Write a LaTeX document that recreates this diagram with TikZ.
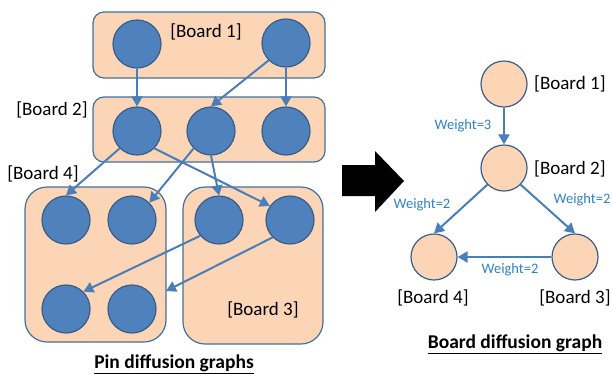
\documentclass[tikz,border=0pt]{standalone}
\usepackage{fontspec}
\setmainfont{Carlito}
\usetikzlibrary{arrows.meta}
\definecolor{peach}{HTML}{FBD5B5}
\definecolor{boxline}{HTML}{41719C}
\definecolor{pinfill}{HTML}{4F81BD}
\definecolor{pinline}{HTML}{385D8A}
\definecolor{arrowc}{HTML}{4A7EBB}
\definecolor{weightc}{HTML}{2E82C6}
\begin{document}
\begin{tikzpicture}[x=1pt,y=-1pt,
  board/.style={draw=boxline, fill=peach, rounded corners=11pt, line width=1.2pt, inner sep=0},
  tallboard/.style={board, rounded corners=22pt},
  pin/.style={circle, draw=pinline, fill=pinfill, line width=1.2pt, minimum size=48pt, inner sep=0},
  bnode/.style={circle, draw=pinline, fill=peach, line width=1.2pt, minimum size=46pt, inner sep=0},
  arr/.style={draw=arrowc, line width=2pt, -{Triangle[length=10pt,width=11pt]}},
  lbl/.style={font=\fontsize{19}{22}\selectfont, inner sep=0},
  wlbl/.style={text=weightc, font=\fontsize{14.5}{17}\selectfont, inner sep=0},
  ttl/.style={font=\bfseries\fontsize{19.5}{22}\selectfont, inner sep=0}]
\useasboundingbox (0,0) rectangle (612,373);

% boards (left)
\node[board, minimum width=232pt, minimum height=66pt] (box1) at (209,45) {};
\node[board, minimum width=232pt, minimum height=65pt] (box2) at (209,129.5) {};
\node[tallboard, minimum width=141pt, minimum height=155pt] (box4) at (95.5,264.5) {};
\node[tallboard, minimum width=140pt, minimum height=157pt] (box3) at (253,265.5) {};

% pins
\node[pin] (b1a) at (137,44) {};
\node[pin] (b1b) at (286,43) {};
\node[pin] (b2a) at (137,131) {};
\node[pin] (b2b) at (211,131) {};
\node[pin] (b2c) at (286,131) {};
\node[pin] (b4a) at (66,220) {};
\node[pin] (b4b) at (132,220) {};
\node[pin] (b4c) at (66,309) {};
\node[pin] (b4d) at (132,309) {};
\node[pin] (b3a) at (219,220) {};
\node[pin] (b3b) at (290,220) {};
\coordinate (b4edge) at (166,291);

% left labels
\node[lbl, anchor=base] (l1) at (206,37) {[Board 1]};
\node[lbl, anchor=base] (l2) at (52,115) {[Board 2]};
\node[lbl, anchor=base] (l4) at (43,179) {[Board 4]};
\node[lbl, anchor=base] (l3) at (263,315) {[Board 3]};
\node[ttl, anchor=base] (t1) at (174,368) {\underline{Pin diffusion graphs}};

% left arrows
\draw[arr] (b1a.south) -- (b2a.north);
\draw[arr] (b1b.south) -- (b2c.north);
\draw[arr] (b1b.225) -- (b2b.north);
\draw[arr] (b2a.225) -- (b4a.north);
\draw[arr] (b2a.315) -- (b3b.145);
\draw[arr] (b2b.225) -- (b4b.45);
\draw[arr] (b2b.south) -- (b3a.north);
\draw[arr] (b3a.220) -- (b4c.45);
\draw[arr] (b3b.225) -- (b4edge);

% big arrow
\fill[black] (342,165) -- (375,165) -- (375,151) -- (404,181) -- (375,212) -- (375,196) -- (342,196) -- cycle;

% right graph
\node[bnode] (r1) at (504,84) {};
\node[bnode] (r2) at (504,168) {};
\node[bnode] (r4) at (434,257) {};
\node[bnode] (r3) at (575,257) {};

\node[lbl, anchor=base west] (rl1) at (534,89) {[Board 1]};
\node[lbl, anchor=base west] (rl2) at (534,174) {[Board 2]};
\node[lbl, anchor=base] (rl4) at (433,303) {[Board 4]};
\node[lbl, anchor=base] (rl3) at (575,303) {[Board 3]};

\draw[arr] (r1.south) -- (r2.north);
\draw[arr] (r2.225) -- (r4.north);
\draw[arr] (r2.315) -- (r3.north);
\draw[arr] (r3.west) -- (r4.east);

\node[wlbl, anchor=base] (w1) at (463,129) {Weight=3};
\node[wlbl, anchor=base] (w2) at (422,208) {Weight=2};
\node[wlbl, anchor=base] (w3) at (582,203) {Weight=2};
\node[wlbl, anchor=base] (w4) at (510,273) {Weight=2};

\node[ttl, anchor=base] (t2) at (515,348) {\underline{Board diffusion graph}};
\end{tikzpicture}
\end{document}
